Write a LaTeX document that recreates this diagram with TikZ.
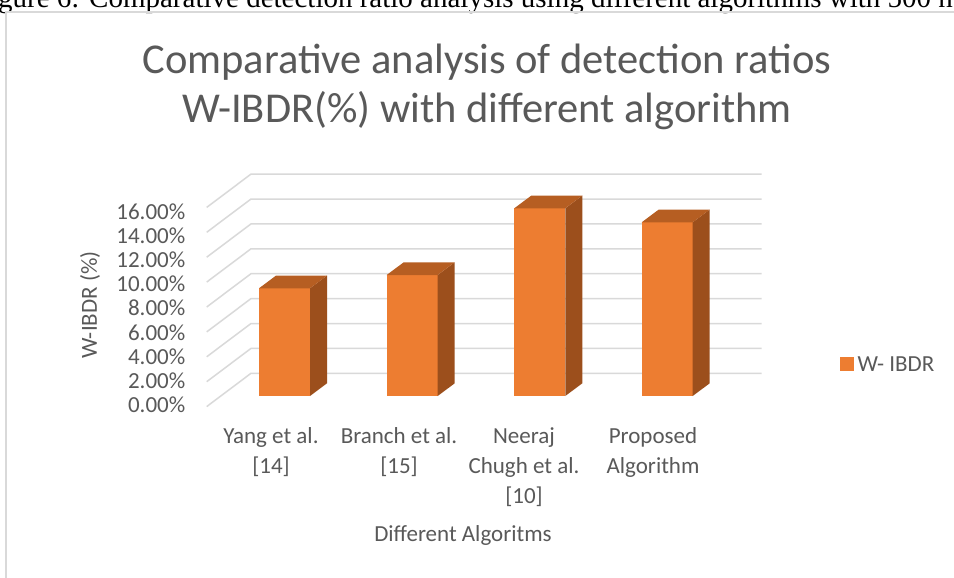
\documentclass[tikz,border=0pt]{standalone}
\usepackage{fontspec}
\setmainfont{Carlito}
\newfontfamily\capfont{Liberation Serif}
\definecolor{txt}{HTML}{595959}
\definecolor{grid}{HTML}{D9D9D9}
\definecolor{barfront}{HTML}{ED7D31}
\definecolor{barside}{HTML}{9C4F1C}
\definecolor{bartop}{HTML}{B65E22}
\definecolor{frame}{HTML}{D9D9D9}
\newcommand\drawbarx[2]{%
  \fill[barfront] (#1,#2) rectangle (#1+51,396);
  \fill[barside] (#1+51,#2) -- (#1+68,#2-12.7) -- (#1+68,383.3) -- (#1+51,396) -- cycle;
  \fill[bartop] (#1,#2) -- (#1+17,#2-12.7) -- (#1+68,#2-12.7) -- (#1+51,#2) -- cycle;
}
\begin{document}
\begin{tikzpicture}[x=1pt,y=-1pt,
  lbl/.style={inner sep=0pt, text=txt, font=\fontsize{23}{30}\selectfont},
  ticklbl/.style={lbl, anchor=east},
  catlbl/.style={lbl, anchor=north, align=center},
  titlelbl/.style={inner sep=0pt, text=txt, font=\fontsize{42.5}{48}\selectfont, anchor=base},
  gridline/.style={draw=grid, line width=1.5pt}]
\useasboundingbox (0,0) rectangle (954,578);
\fill[white] (0,0) rectangle (954,578);
% caption (cut off at top)
\node[inner sep=0pt, anchor=base west, font=\capfont\fontsize{29}{32}\selectfont] (cap) at (-2,8) {gure 6: Comparative detection ratio analysis using different algorithms with 500 n};
% chart frame
\draw[frame, line width=1.5pt] (6,12) rectangle (962,590);
% title
\node[titlelbl] (t1) at (487,74) {Comparative analysis of detection ratios};
\node[titlelbl] (t2) at (487,122) {W-IBDR(\%) with different algorithm};
% gridlines
\foreach \k in {0,...,8} {
  \pgfmathsetmacro\yb{373.3-24.9*\k}
  \draw[gridline] (206.7,\yb+33.3) -- (251,\yb) -- (761.7,\yb);
}
% tick labels
\foreach \k/\t in {0/0.00,1/2.00,2/4.00,3/6.00,4/8.00,5/10.00,6/12.00,7/14.00,8/16.00} {
  \node[ticklbl] (tick\k) at (185.5,405-24.2*\k) {\t\%};
}
% bars
\drawbarx{259}{288.3}
\drawbarx{386.7}{275}
\drawbarx{514.3}{208.3}
\drawbarx{641.7}{222.3}
% category labels
\node[catlbl] (c1) at (271,427) {Yang et al.\\{}[14]};
\node[catlbl] (c2) at (399,427) {Branch et al.\\{}[15]};
\node[catlbl] (c3) at (524,427) {Neeraj\\Chugh et al.\\{}[10]};
\node[catlbl] (c4) at (653,427) {Proposed\\Algorithm};
% axis titles
\node[lbl, anchor=base] (xt) at (463,541.7) {Different Algoritms};
\node[lbl, rotate=90] (yt) at (90,305) {W-IBDR (\%)};
% legend
\fill[barfront] (840,357) rectangle (854,371);
\node[lbl, anchor=base west] (leg) at (857.5,371) {W- IBDR};
\end{tikzpicture}
\end{document}
